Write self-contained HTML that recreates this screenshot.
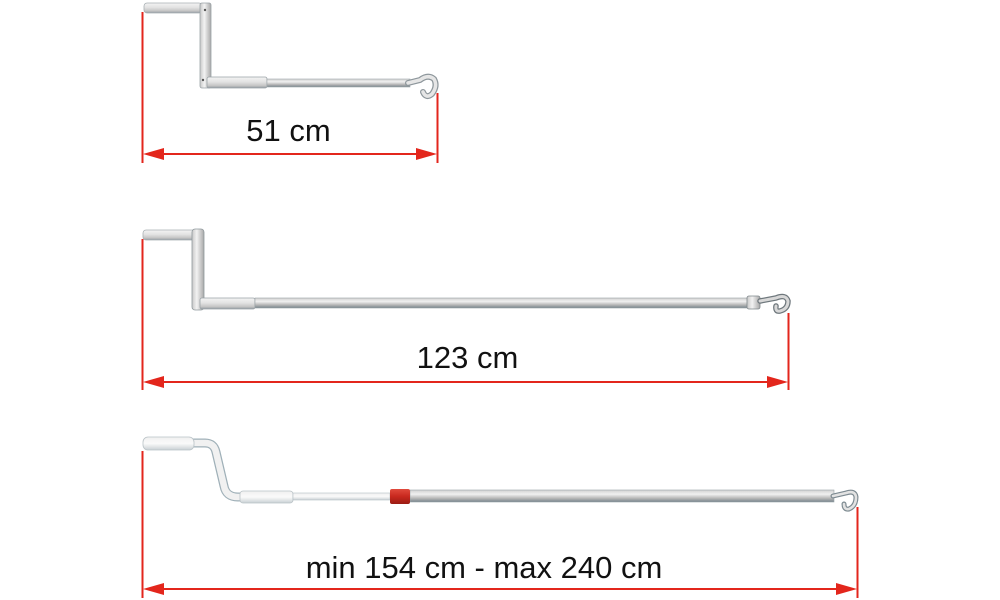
<!DOCTYPE html>
<html>
<head>
<meta charset="utf-8">
<style>
  html,body{margin:0;padding:0;background:#fff;}
  svg{display:block;}
  text{font-family:"Liberation Sans", Arial, sans-serif;fill:#111;}
</style>
</head>
<body>
<svg width="1000" height="600" viewBox="0 0 1000 600" xmlns="http://www.w3.org/2000/svg">
  <defs>
    <linearGradient id="gv" x1="0" y1="0" x2="0" y2="1">
      <stop offset="0" stop-color="#f4f4f4"/>
      <stop offset="0.45" stop-color="#e2e2e2"/>
      <stop offset="0.8" stop-color="#c4c4c4"/>
      <stop offset="1" stop-color="#8f99a0"/>
    </linearGradient>
    <linearGradient id="gr" x1="0" y1="0" x2="0" y2="1">
      <stop offset="0" stop-color="#d0d0d0"/>
      <stop offset="0.35" stop-color="#f0f0f0"/>
      <stop offset="0.7" stop-color="#b5b5b5"/>
      <stop offset="1" stop-color="#76848c"/>
    </linearGradient>
    <linearGradient id="gh" x1="0" y1="0" x2="1" y2="0">
      <stop offset="0" stop-color="#c8c8c8"/>
      <stop offset="0.4" stop-color="#f2f2f2"/>
      <stop offset="1" stop-color="#a8a8a8"/>
    </linearGradient>
    <linearGradient id="gw" x1="0" y1="0" x2="0" y2="1">
      <stop offset="0" stop-color="#f0f0f0"/>
      <stop offset="0.5" stop-color="#fafafa"/>
      <stop offset="1" stop-color="#c9d0d4"/>
    </linearGradient>
    <linearGradient id="gred" x1="0" y1="0" x2="0" y2="1">
      <stop offset="0" stop-color="#e04a3c"/>
      <stop offset="0.5" stop-color="#c8281e"/>
      <stop offset="1" stop-color="#9a1c14"/>
    </linearGradient>
  </defs>

  <!-- ============ Diagram 1 ============ -->
  <rect x="144" y="3" width="58" height="10" rx="3" fill="url(#gv)" stroke="#a9b0b4" stroke-width="0.8"/>
  <rect x="200" y="3" width="11" height="85" rx="2" fill="url(#gh)" stroke="#9aa2a6" stroke-width="0.8"/>
  <rect x="207" y="77" width="60" height="11" rx="2" fill="url(#gv)" stroke="#9aa2a6" stroke-width="0.8"/>
  <rect x="267" y="79" width="143" height="8" fill="url(#gr)" stroke="#a0a8ac" stroke-width="0.6"/>
  <circle cx="205" cy="10" r="1.2" fill="#555"/>
  <circle cx="203" cy="80" r="1.2" fill="#555"/>
  <path d="M408,83 L420,80 Q428,74 434,79 Q438,86 432,94 Q426,99 423,92" fill="none" stroke="#8e979c" stroke-width="6" stroke-linecap="round"/>
  <path d="M408,83 L420,80 Q428,74 434,79 Q438,86 432,94 Q426,99 423,92" fill="none" stroke="#e6e6e6" stroke-width="3.5" stroke-linecap="round"/>

  <!-- dim 1 -->
  <line x1="142.5" y1="12" x2="142.5" y2="163" stroke="#e3261c" stroke-width="2"/>
  <line x1="437.5" y1="93" x2="437.5" y2="163" stroke="#e3261c" stroke-width="2"/>
  <line x1="150" y1="154" x2="430" y2="154" stroke="#e3261c" stroke-width="2"/>
  <polygon points="143,154 164,148 164,160" fill="#e3261c"/>
  <polygon points="437,154 416,148 416,160" fill="#e3261c"/>
  <text x="288.5" y="141" font-size="31" text-anchor="middle">51 cm</text>

  <!-- ============ Diagram 2 ============ -->
  <rect x="143" y="230" width="56" height="10" rx="3" fill="url(#gv)" stroke="#a9b0b4" stroke-width="0.8"/>
  <rect x="192" y="229" width="12" height="81" rx="3" fill="url(#gh)" stroke="#8f989c" stroke-width="0.8"/>
  <rect x="200" y="298" width="55" height="11" rx="2" fill="url(#gv)" stroke="#9aa2a6" stroke-width="0.8"/>
  <rect x="255" y="298" width="493" height="10" fill="url(#gr)" stroke="#9aa2a6" stroke-width="0.6"/>
  <rect x="747" y="296" width="13" height="13" rx="2" fill="url(#gh)" stroke="#7f878b" stroke-width="0.8"/>
  <path d="M760,301 L776,298 Q786,294 788,301 Q788,309 780,311 Q775,312 776,306" fill="none" stroke="#6f787d" stroke-width="5.5" stroke-linecap="round"/>
  <path d="M760,301 L776,298 Q786,294 788,301 Q788,309 780,311 Q775,312 776,306" fill="none" stroke="#d8d8d8" stroke-width="3" stroke-linecap="round"/>

  <!-- dim 2 -->
  <line x1="142.5" y1="239" x2="142.5" y2="390" stroke="#e3261c" stroke-width="2"/>
  <line x1="788.5" y1="313" x2="788.5" y2="390" stroke="#e3261c" stroke-width="2"/>
  <line x1="150" y1="382" x2="780" y2="382" stroke="#e3261c" stroke-width="2"/>
  <polygon points="143,382 164,376 164,388" fill="#e3261c"/>
  <polygon points="788,382 767,376 767,388" fill="#e3261c"/>
  <text x="467.5" y="368" font-size="31" text-anchor="middle">123 cm</text>

  <!-- ============ Diagram 3 ============ -->
  <path d="M192,443 L205,443 Q214,443 216,452 L224,486 Q226,497 238,497 L242,497" fill="none" stroke="#9fb0b8" stroke-width="9" stroke-linejoin="round"/>
  <path d="M192,443 L205,443 Q214,443 216,452 L224,486 Q226,497 238,497 L242,497" fill="none" stroke="#f1f1f1" stroke-width="6.5" stroke-linejoin="round"/>
  <rect x="143" y="437" width="51" height="13" rx="5" fill="url(#gw)" stroke="#b9c2c6" stroke-width="0.8"/>
  <rect x="240" y="491" width="53" height="12" rx="3" fill="url(#gw)" stroke="#b9c2c6" stroke-width="0.8"/>
  <rect x="293" y="493" width="97" height="7" fill="url(#gw)" stroke="#b4bec3" stroke-width="0.6"/>
  <rect x="410" y="490" width="424" height="12" fill="url(#gr)" stroke="#9aa3a8" stroke-width="0.6"/>
  <rect x="390" y="489" width="20" height="15" rx="2" fill="url(#gred)"/>
  <path d="M833,496 L846,493 Q855,490 856,497 Q856,506 849,509 Q844,510 844,504" fill="none" stroke="#7d8a91" stroke-width="5" stroke-linecap="round"/>
  <path d="M833,496 L846,493 Q855,490 856,497 Q856,506 849,509 Q844,510 844,504" fill="none" stroke="#e2e2e2" stroke-width="2.6" stroke-linecap="round"/>

  <!-- dim 3 -->
  <line x1="142.5" y1="451" x2="142.5" y2="598" stroke="#e3261c" stroke-width="2"/>
  <line x1="857.5" y1="507" x2="857.5" y2="598" stroke="#e3261c" stroke-width="2"/>
  <line x1="150" y1="589" x2="850" y2="589" stroke="#e3261c" stroke-width="2"/>
  <polygon points="143,589 164,583 164,595" fill="#e3261c"/>
  <polygon points="857,589 836,583 836,595" fill="#e3261c"/>
  <text x="484" y="578" font-size="31" text-anchor="middle">min 154 cm - max 240 cm</text>
</svg>
</body>
</html>
